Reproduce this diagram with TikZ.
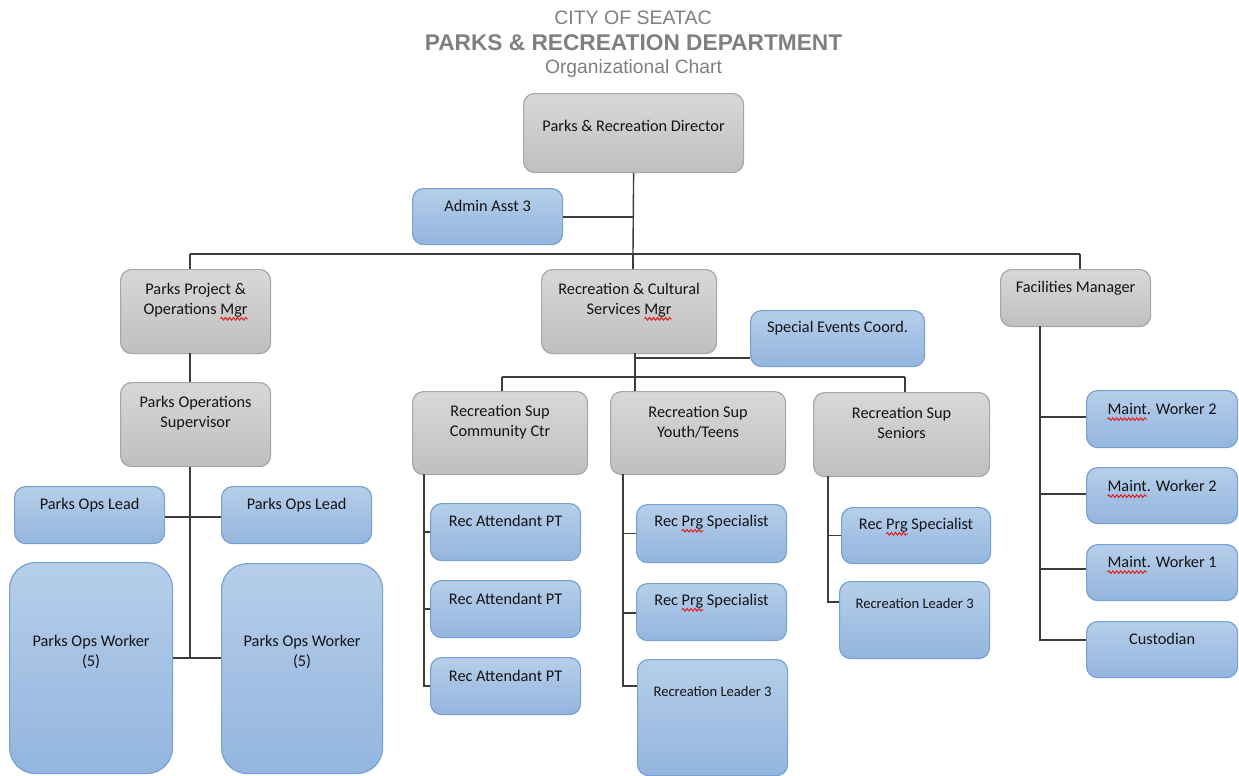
\documentclass[tikz,border=0pt]{standalone}
\usepackage{fontspec}
\setmainfont{Carlito}
\newfontfamily\titlefont{Liberation Sans}
\usetikzlibrary{calc,decorations.pathmorphing}

\definecolor{linec}{HTML}{3C3C3C}
\definecolor{gtop}{HTML}{D8D8D8}
\definecolor{gbot}{HTML}{BFBFBF}
\definecolor{gborder}{HTML}{A6A6A6}
\definecolor{btop}{HTML}{B6CEEA}
\definecolor{bbot}{HTML}{93B5DE}
\definecolor{bborder}{HTML}{78A1D3}
\definecolor{txt}{HTML}{141414}
\definecolor{titlegray}{HTML}{7F7F7F}
\definecolor{squigred}{HTML}{E02020}

% red wavy underline for flagged words
\newsavebox\squigbox
\newcommand\squig[1]{\leavevmode\sbox\squigbox{#1}%
  \rlap{\tikz[x=1pt,y=1pt,baseline=0pt,overlay]
    \draw[squigred,line width=1pt,decorate,
          decoration={snake,amplitude=1.3pt,segment length=4pt}]
      (0,-4.5) -- (\the\wd\squigbox,-4.5);}%
  \usebox\squigbox}

\tikzset{
  conn/.style={draw=linec, line width=1.4pt},
  gbox/.style={draw=gborder, line width=1.2pt, rounded corners=11pt,
               top color=gtop, bottom color=gbot, inner sep=0pt},
  bbox/.style={draw=bborder, line width=1.2pt, rounded corners=11pt,
               top color=btop, bottom color=bbot, inner sep=0pt},
  bigbbox/.style={bbox, rounded corners=26pt},
  boxtext/.style={align=center, text=txt, inner sep=0pt,
                  font=\fontsize{16.3}{20}\selectfont},
  smalltext/.style={font=\fontsize{14.6}{18}\selectfont},
  titletext/.style={text=titlegray, inner sep=0pt, anchor=base},
}

% #1 style, #2 name, #3 x1, #4 y1, #5 x2, #6 y2, #7 text centre y, #8 text
\newcommand\orgbox[8]{%
  \node[#1, anchor=north west, minimum width={(#5-#3)*1pt},
        minimum height={(#6-#4)*1pt}] (#2) at (#3,#4) {};
  \path (#2.north) ++(0,{#7-#4}) node[boxtext] (#2-t) {#8};
}

\begin{document}
\begin{tikzpicture}[x=1pt, y=-1pt]
\useasboundingbox (0,0) rectangle (1239,776);

% heading
\node[titletext, font=\titlefont\fontsize{19.5}{22}\selectfont] (title1) at (633,25) {CITY OF SEATAC};
\node[titletext, font=\titlefont\bfseries\fontsize{22.7}{26}\selectfont] (title2) at (633.5,51) {PARKS \& RECREATION DEPARTMENT};
\node[titletext, font=\titlefont\fontsize{19.3}{22}\selectfont] (title3) at (633.5,74) {Organizational Chart};

% top level
\orgbox{gbox}{dir}{523}{93}{743}{172}{126}{Parks \& Recreation Director}
\orgbox{bbox}{admin}{412}{188}{562}{244}{206}{Admin Asst 3}

% managers
\orgbox{gbox}{pmgr}{120}{269}{270}{353}{300}{Parks Project \&\\Operations \squig{Mgr}}
\orgbox{gbox}{rmgr}{541}{269}{716}{353}{300}{Recreation \& Cultural\\Services \squig{Mgr}}
\orgbox{gbox}{fmgr}{1000}{269}{1150}{326}{288}{Facilities Manager}
\orgbox{bbox}{sev}{750}{310}{924}{366}{328}{Special Events Coord.}

% parks branch
\orgbox{gbox}{psup}{120}{382}{270}{466}{413}{Parks Operations\\Supervisor}
\orgbox{bbox}{leadA}{14}{486}{164}{543}{505}{Parks Ops Lead}
\orgbox{bbox}{leadB}{221}{486}{371}{543}{505}{Parks Ops Lead}
\orgbox{bigbbox}{workA}{9}{562}{172}{773}{652}{Parks Ops Worker\\(5)}
\orgbox{bigbbox}{workB}{221}{563}{382}{773}{652}{Parks Ops Worker\\(5)}

% recreation branch
\orgbox{gbox}{supA}{412}{391}{587}{474}{422}{Recreation Sup\\Community Ctr}
\orgbox{gbox}{supB}{610}{391}{785}{474}{422}{Recreation Sup\\Youth/Teens}
\orgbox{gbox}{supC}{813}{392}{989}{476}{423}{Recreation Sup\\Seniors}

\orgbox{bbox}{attA}{430}{503}{580}{560}{521}{Rec Attendant PT}
\orgbox{bbox}{attB}{430}{580}{580}{637}{599}{Rec Attendant PT}
\orgbox{bbox}{attC}{430}{657}{580}{714}{676}{Rec Attendant PT}

\orgbox{bbox}{specA}{636}{504}{786}{562}{522}{Rec \squig{Prg} Specialist}
\orgbox{bbox}{specB}{636}{583}{786}{640}{601}{Rec \squig{Prg} Specialist}
\orgbox{bbox}{leadY}{637}{659}{787}{775}{691}{\fontsize{14.6}{18}\selectfont Recreation Leader 3}

\orgbox{bbox}{specC}{841}{507}{990}{563}{525}{Rec \squig{Prg} Specialist}
\orgbox{bbox}{leadS}{839}{581}{989}{658}{603}{\fontsize{14.6}{18}\selectfont Recreation Leader 3}

% facilities branch
\orgbox{bbox}{mwA}{1086}{390}{1237}{447}{409}{\squig{Maint}. Worker 2}
\orgbox{bbox}{mwB}{1086}{467}{1237}{523}{486}{\squig{Maint}. Worker 2}
\orgbox{bbox}{mwC}{1086}{544}{1237}{600}{562}{\squig{Maint}. Worker 1}
\orgbox{bbox}{cust}{1086}{621}{1237}{677}{639}{Custodian}

% junction points
\coordinate (busL) at (190,254);
\coordinate (busM) at (633,254);
\coordinate (busR) at (1080,254);
\coordinate (adj) at (633,217);
\coordinate (pv) at (190,353);
\coordinate (plead) at (190,517);
\coordinate (pwork) at (190,658);
\coordinate (rv) at (635,353);
\coordinate (sevj) at (635,358);
\coordinate (rbusL) at (502,377);
\coordinate (rbusM) at (635,377);
\coordinate (rbusR) at (905,377);
\coordinate (cA) at (424,474);
\coordinate (cB) at (623,474);
\coordinate (cC) at (828,476);
\coordinate (fv) at (1040,326);

% connectors: director level
\draw[conn] (dir.south) -- (busM);
\draw[conn] (admin.east |- adj) -- (adj);
\draw[conn] (busL) -- (busR);
\draw[conn] (busL) -- (busL |- pmgr.north);
\draw[conn] (busM) -- (busM |- rmgr.north);
\draw[conn] (busR) -- (busR |- fmgr.north);

% connectors: parks
\draw[conn] (pv) -- (pv |- psup.north);
\draw[conn] (pv |- psup.south) -- (pwork);
\draw[conn] (plead -| leadA.east) -- (plead -| leadB.west);
\draw[conn] (pwork -| workA.east) -- (pwork -| workB.west);

% connectors: recreation
\draw[conn] (rv) -- (rbusM);
\draw[conn] (sevj) -- (sevj -| sev.west);
\draw[conn] (rbusL) -- (rbusR);
\draw[conn] (rbusL) -- (rbusL |- supA.north);
\draw[conn] (rbusM) -- (rbusM |- supB.north);
\draw[conn] (rbusR) -- (rbusR |- supC.north);

\draw[conn] (cA) |- (attC.west);
\draw[conn] (cA |- attA.west) -- (attA.west);
\draw[conn] (cA |- attB.west) -- (attB.west);

\coordinate (jY) at (623,686);
\coordinate (jB) at (623,613);
\coordinate (jS) at (828,602);
\draw[conn] (cB) |- (jY -| leadY.west);
\draw[conn] (cB |- specA.west) -- (specA.west);
\draw[conn] (jB) -- (jB -| specB.west);

\draw[conn] (cC) |- (jS -| leadS.west);
\draw[conn] (cC |- specC.west) -- (specC.west);

% connectors: facilities
\coordinate (fA) at (1040,417);
\coordinate (fB) at (1040,494);
\coordinate (fC) at (1040,569);
\coordinate (fD) at (1040,640);
\draw[conn] (fv) |- (fD -| cust.west);
\draw[conn] (fA) -- (fA -| mwA.west);
\draw[conn] (fB) -- (fB -| mwB.west);
\draw[conn] (fC) -- (fC -| mwC.west);
\end{tikzpicture}
\end{document}
